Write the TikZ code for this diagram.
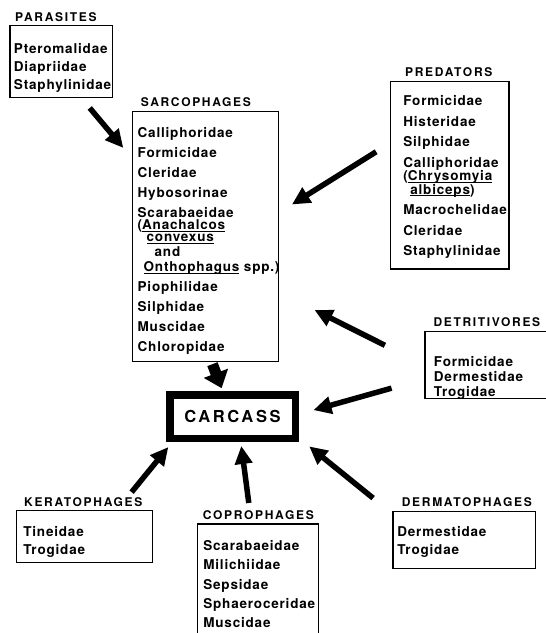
\documentclass[tikz,border=0pt]{standalone}
\usepackage{fontspec}
\setmainfont{TeX Gyre Heros}
\newfontfamily\taxonfont[LetterSpace=6]{TeX Gyre Heros}
\newfontfamily\headfont[LetterSpace=14]{TeX Gyre Heros}
\newfontfamily\carcfont[LetterSpace=16]{TeX Gyre Heros}
\usetikzlibrary{arrows.meta}
\newcommand\genus[1]{\underline{\smash{#1}}}
\hyphenpenalty=10000
\exhyphenpenalty=10000

\begin{document}
\begin{tikzpicture}
[x=1pt,y=-1pt,
taxa/.style={draw,line width=1.3pt,anchor=north west,align=left,
inner ysep=0pt,font=\taxonfont\bfseries\fontsize{13.5}{#1}\selectfont},
taxa/.default=20pt,
grouptitle/.style={anchor=base west,inner sep=0pt,
font=\headfont\bfseries\fontsize{12}{14}\selectfont},
carcass/.style={draw,line width=7.5pt,minimum width=125.5pt,
minimum height=43.5pt,inner sep=0pt,
font=\carcfont\bfseries\fontsize{16.5}{19}\selectfont},
>={Triangle[length=18pt,width=17pt]},
feed/.style={->,line width=5.5pt},
fat feed/.style={-{Triangle[length=16pt,width=25pt]},line width=11pt}]

\useasboundingbox (0,0) rectangle (546,633);
\clip (0,0) rectangle (546,633);

% feeding groups
\node [taxa=18.3pt,inner xsep=4pt,text width=94.4pt,
text height=27.7pt,text depth=44pt,
label={[grouptitle,xshift=5.7pt,yshift=3.3pt]north west:PARASITES}]
(para) at (9.3,25) {Pteromalidae\\Diapriidae\\Staphylinidae};

\node [taxa,inner xsep=5.5pt,text width=135pt,
text height=25.7pt,text depth=224.3pt,
label={[grouptitle,xshift=9.2pt,yshift=4.3pt]north west:SARCOPHAGES}]
(sarc) at (131.5,111)
{Calliphoridae\\Formicidae\\Cleridae\\Hybosorinae\\Scarabaeidae\\[-8pt]
(\genus{Anachalcos}\\[-8pt]
\hspace*{9pt}\genus{convexus}\\[-5pt]
\hspace*{17pt}and\\[-5pt]
\hspace*{6pt}\genus{Onthophagus}~spp.)\\
Piophilidae\\Silphidae\\Muscidae\\Chloropidae};

\node [taxa=20.5pt,inner xsep=13pt,text width=92.6pt,
text height=24.3pt,text depth=163.3pt,
label={[grouptitle,xshift=15.3pt,yshift=4pt]north west:PREDATORS}]
(pred) at (389.7,80.7)
{Formicidae\\Histeridae\\Silphidae\\Calliphoridae\\[-7pt]
(\genus{Chrysomyia}\\[-7pt]
\hspace*{7pt}\genus{albiceps})\\
Macrochelidae\\Cleridae\\Staphylinidae};

\node [taxa=15pt,inner xsep=9pt,text width=112pt,
text height=35.3pt,text depth=32pt,
label={[grouptitle,xshift=9pt,yshift=4pt]north west:DETRITIVORES}]
(detr) at (424.3,330.7) {Formicidae\\Dermestidae\\Trogidae};

\node [taxa=18.3pt,inner xsep=7pt,text width=122pt,
text height=25.7pt,text depth=26pt,
label={[grouptitle,xshift=8.3pt,yshift=4pt]north west:KERATOPHAGES}]
(kera) at (15.7,510) {Tineidae\\Trogidae};

\node [taxa=19.3pt,inner xsep=6pt,text width=109pt,
text height=26.7pt,text depth=93.3pt,
label={[grouptitle,xshift=6pt,yshift=4.3pt]north west:COPROPHAGES}]
(copr) at (196.7,523.3)
{Scarabaeidae\\Milichiidae\\Sepsidae\\Sphaeroceridae\\Muscidae};

\node [taxa=18.3pt,inner xsep=4.4pt,text width=133.9pt,
text height=25pt,text depth=32pt,
label={[grouptitle,xshift=9.4pt,yshift=4pt]north west:DERMATOPHAGES}]
(derm) at (392.3,510.7) {Dermestidae\\Trogidae};

\node [carcass] (carc) at (232.5,416.5) {CARCASS};

% arrows
\draw [feed,shorten <=13pt,shorten >=12.75pt] (para.-61.6) -- (sarc.133.1);
\draw [feed,shorten <=16pt,shorten >=15.5pt] (pred.152.25) -- (sarc.18.13);
\draw [feed,shorten <=44pt,shorten >=40pt] (detr.west) -- (sarc.-37);
\draw [feed,shorten <=34pt,shorten >=15pt] (detr.-168.3) -- (carc.2.07);
\draw [fat feed,shorten <=2pt,shorten >=3pt] (sarc.-87.9) -- (carc.111.8);
\draw [feed,shorten <=23pt,shorten >=6.5pt] (kera.39.4) -- (carc.-157.45);
\draw [feed,shorten <=20.5pt,shorten >=4pt] (copr.96.4) -- (carc.-72.6);
\draw [feed,shorten <=24.7pt,shorten >=13.2pt] (derm.160.1) -- (carc.-18.5);
\end{tikzpicture}
\end{document}
